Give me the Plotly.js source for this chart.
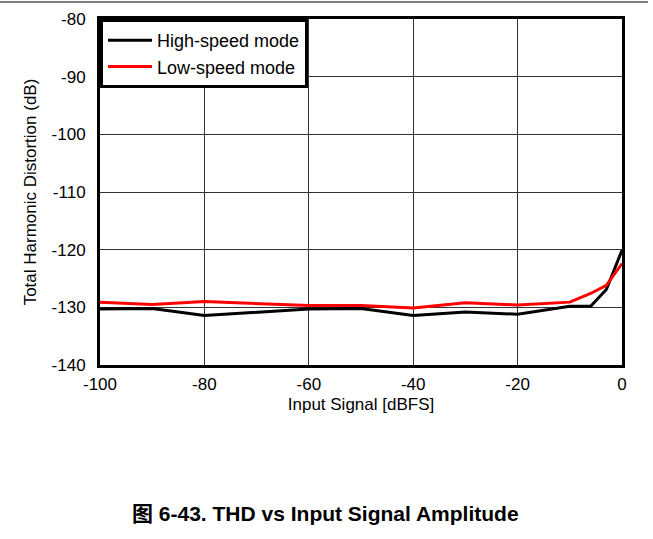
<!DOCTYPE html>
<html><head><meta charset="utf-8">
<script src="https://cdn.plot.ly/plotly-3.0.1.min.js"></script>
<style>html,body{margin:0;padding:0;background:#fff}</style>
</head><body>
<div id="chart" style="width:653px;height:539px"></div>
<script>
const inputSignal = [-100, -90, -80, -70, -60, -50, -40, -30, -20, -10, -6, -3, 0];
const highSpeedTHD = [-130.3, -130.2, -131.4, -130.8, -130.3, -130.2, -131.4, -130.8, -131.2, -129.8, -129.8, -126.9, -120.1];
const lowSpeedTHD  = [-129.1, -129.5, -129.0, -129.3, -129.7, -129.7, -130.1, -129.2, -129.6, -129.1, -127.6, -126.2, -122.4];
const seriesNames = ['High-speed mode', 'Low-speed mode'];
const xTicks = [-100, -80, -60, -40, -20, 0];
const yTicks = [-140, -130, -120, -110, -100, -90, -80];
const captionText = '图 6-43. THD vs Input Signal Amplitude';

const traces = [
  {x: inputSignal, y: highSpeedTHD, name: seriesNames[0], mode: 'lines',
   line: {color: '#000000', width: 3}},
  {x: inputSignal, y: lowSpeedTHD, name: seriesNames[1], mode: 'lines',
   line: {color: '#ff0000', width: 3}}
];

const fontFam = 'Liberation Sans, Arial, sans-serif';
const layout = {
  width: 653, height: 539,
  margin: {l: 100, r: 31, t: 19, b: 174},
  paper_bgcolor: '#fff', plot_bgcolor: '#fff',
  font: {family: fontFam, size: 17, color: '#000'},
  showlegend: true,
  legend: {x: 0, y: 1, xanchor: 'left', yanchor: 'top',
    bgcolor: '#fff', bordercolor: '#000', borderwidth: 3,
    font: {family: fontFam, size: 18, color: '#000'},
    tracegroupgap: 0, itemwidth: 44},
  xaxis: {range: [-100, 0], tickvals: xTicks, ticktext: xTicks.map(String),
    showgrid: true, gridcolor: '#333', gridwidth: 1, zeroline: false,
    showline: true, linecolor: '#000', linewidth: 3, mirror: true,
    ticks: '', ticklabelstandoff: 2,
    title: {text: 'Input Signal [dBFS]', font: {family: fontFam, size: 17}, standoff: 5}},
  yaxis: {range: [-140, -80], tickvals: yTicks, ticktext: yTicks.map(String),
    showgrid: true, gridcolor: '#333', gridwidth: 1, zeroline: false,
    showline: true, linecolor: '#000', linewidth: 3, mirror: true,
    ticks: '', ticklabelstandoff: 8,
    title: {text: 'Total Harmonic Distortion (dB)', font: {family: fontFam, size: 17}, standoff: 11}},
  shapes: [{type: 'line', xref: 'paper', yref: 'paper',
    x0: -100/522, x1: 548/522, y0: (365-2)/346, y1: (365-2)/346,
    line: {color: '#000', width: 1}}],
  annotations: [{text: '<b>' + captionText + '</b>', xref: 'paper', yref: 'paper',
    x: (325-100)/522, y: (365-513)/346, xanchor: 'center', yanchor: 'middle',
    showarrow: false, font: {family: 'Liberation Sans, Noto Sans CJK SC, sans-serif', size: 21, color: '#000'}}]
};

Plotly.newPlot('chart', traces, layout, {displayModeBar: false, staticPlot: true});
</script>
</body></html>
